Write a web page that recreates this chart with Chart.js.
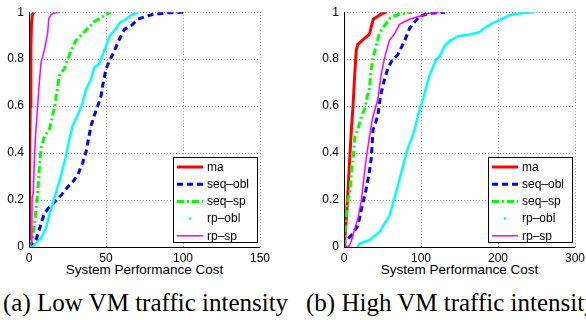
<!DOCTYPE html>
<html>
<head>
<meta charset="utf-8">
<script src="https://cdn.jsdelivr.net/npm/chart.js@4.4.1/dist/chart.umd.min.js"></script>
<style>
  html, body { margin: 0; padding: 0; background: #fff; }
  body { width: 586px; height: 320px; position: relative; overflow: hidden; }
  canvas { position: absolute; top: 0; }
  .xlabel { position: absolute; top: 263px; width: 231px; text-align: center; font: 13.5px/13.5px "Liberation Sans", Arial, sans-serif; white-space: nowrap; color: #000; }
  .caption { position: absolute; top: 290px; font: 25px/25px "Liberation Serif", "Times New Roman", serif; white-space: nowrap; color: #000; }
</style>
</head>
<body>
<canvas id="lowChart" width="290" height="262" style="left:0"></canvas>
<canvas id="highChart" width="290" height="262" style="left:300px"></canvas>
<div class="xlabel" style="left:29px">System Performance Cost</div>
<div class="xlabel" style="left:344px">System Performance Cost</div>
<div class="caption" style="left:3px">(a) Low VM traffic intensity</div>
<div class="caption" style="left:306px">(b) High VM traffic intensity</div>
<script>
// series names (legend order)
const seriesNames = ['ma', 'seq\u2013obl', 'seq\u2013sp', 'rp\u2013obl', 'rp\u2013sp'];

// (a) low VM traffic intensity: cost / CDF pairs
const lowMaCost = [0, 0.2, 0.5, 0.8, 1.2, 1.6, 2.2, 3.0];
const lowMaCdf = [0, 0.1, 0.3, 0.6, 0.85, 0.95, 0.99, 1];
const lowSeqOblCost = [0, 1.5, 4.5, 6.3, 7.8, 10, 13.2, 16.4, 20.8, 25.1, 28.4, 31.6, 34.9, 37, 40.3, 42.4, 44.6, 46.8, 47.8, 50, 52, 55.4, 58.6, 62, 66.7, 70.6, 75, 80, 89, 97, 102];
const lowSeqOblCdf = [0, 0.005, 0.03, 0.065, 0.1, 0.143, 0.17, 0.19, 0.22, 0.255, 0.277, 0.305, 0.36, 0.404, 0.517, 0.56, 0.6, 0.644, 0.686, 0.757, 0.79, 0.835, 0.884, 0.927, 0.944, 0.97, 0.98, 0.99, 0.997, 0.999, 1];
const lowSeqSpCost = [0, 1, 2.4, 3.5, 4.5, 5.6, 6.7, 7.8, 10, 13.2, 14.3, 16.4, 18.6, 19.7, 23, 25, 30.5, 38, 42.4, 50, 53];
const lowSeqSpCdf = [0, 0.02, 0.04, 0.09, 0.16, 0.23, 0.33, 0.42, 0.47, 0.5, 0.53, 0.59, 0.68, 0.73, 0.76, 0.8, 0.88, 0.93, 0.96, 0.99, 1];
const lowRpOblCost = [0, 2.4, 4.5, 7.8, 11, 13.2, 16.4, 19.7, 23.6, 26.2, 28.4, 31.6, 34.9, 37, 40.3, 42.4, 45.6, 50, 52.6, 56.5, 59, 63, 65.6, 70.8];
const lowRpOblCdf = [0, 0.002, 0.015, 0.037, 0.08, 0.136, 0.206, 0.277, 0.376, 0.46, 0.517, 0.56, 0.616, 0.67, 0.715, 0.764, 0.78, 0.856, 0.9, 0.93, 0.955, 0.97, 0.985, 1];
const lowRpSpCost = [0, 1.5, 1.9, 2.0, 2.8, 3.5, 4.5, 5.6, 6.7, 7.8, 10, 12.1, 12.8, 14.3, 17, 19.7];
const lowRpSpCdf = [0, 0.02, 0.12, 0.21, 0.23, 0.38, 0.5, 0.6, 0.7, 0.785, 0.84, 0.91, 0.97, 0.99, 0.998, 1];

// (b) high VM traffic intensity
const highMaCost = [0, 1, 3, 5, 7.5, 9.6, 11.7, 14, 16, 18, 22, 27, 31, 33.4, 35.5, 38, 44, 50, 55];
const highMaCdf = [0, 0.03, 0.12, 0.23, 0.38, 0.5, 0.6, 0.74, 0.84, 0.863, 0.875, 0.89, 0.9, 0.91, 0.94, 0.97, 0.983, 0.995, 1];
const highSeqOblCost = [0, 1, 9.6, 18, 22.6, 29, 33, 35.5, 37.7, 40, 44, 46.4, 48.6, 53, 57, 61.5, 70, 79, 85, 92, 98, 109, 131];
const highSeqOblCdf = [0, 0.02, 0.05, 0.09, 0.16, 0.25, 0.32, 0.38, 0.5, 0.52, 0.56, 0.62, 0.66, 0.72, 0.76, 0.79, 0.82, 0.88, 0.93, 0.96, 0.983, 0.994, 1];
const highSeqSpCost = [0, 1, 3, 5, 7.5, 10, 12, 14, 18, 22, 27, 30, 33, 35, 38, 42, 46, 52, 60, 70, 88];
const highSeqSpCdf = [0, 0.05, 0.13, 0.2, 0.23, 0.33, 0.38, 0.47, 0.5, 0.55, 0.59, 0.64, 0.67, 0.75, 0.81, 0.86, 0.91, 0.94, 0.975, 0.99, 1];
const highRpOblCost = [18, 20.4, 33.4, 46.4, 59.4, 70, 81, 91.8, 96, 102.6, 111, 120, 124, 130.8, 137, 148, 163, 176, 182.7, 193.5, 202, 215, 232.5, 247.7];
const highRpOblCdf = [0, 0.015, 0.03, 0.065, 0.136, 0.26, 0.4, 0.5, 0.56, 0.63, 0.73, 0.8, 0.81, 0.856, 0.877, 0.898, 0.905, 0.915, 0.933, 0.955, 0.966, 0.987, 0.997, 1];
const highRpSpCost = [0, 7, 9, 11.7, 15, 18, 22.6, 26, 29, 33, 36, 38, 44, 46, 48.6, 53, 59, 66, 72, 85, 98, 110, 124];
const highRpSpCdf = [0, 0.005, 0.02, 0.05, 0.09, 0.12, 0.2, 0.3, 0.38, 0.47, 0.53, 0.56, 0.63, 0.68, 0.74, 0.81, 0.88, 0.91, 0.948, 0.97, 0.983, 0.995, 1];

// tick labels
const yTicks = [0, 0.2, 0.4, 0.6, 0.8, 1];
const lowXTicks = [0, 50, 100, 150];
const highXTicks = [0, 100, 200, 300];

// line styles, same order as seriesNames
const lineStyles = [
  { color: '#ff0000', width: 3, dash: [] },
  { color: '#0000ff', width: 3, dash: [6, 4] },
  { color: '#00ff00', width: 3, dash: [7, 3, 2, 3] },
  { color: '#00ffff', width: 2.5, dash: [], dot: true },
  { color: '#ff00ff', width: 1.5, dash: [] }
];

const sansFont = 'Liberation Sans, Arial, Helvetica, sans-serif';

function toPoints(cost, cdf) {
  return cost.map((c, i) => ({ x: c, y: cdf[i] }));
}

// axis lines + legend box drawn inside the plot area, MATLAB style
const axesAndLegend = {
  id: 'axesAndLegend',
  afterDraw(chart) {
    const { ctx, chartArea: a } = chart;
    ctx.save();
    ctx.setLineDash([]);
    ctx.strokeStyle = '#000';
    ctx.lineWidth = 1;
    ctx.beginPath();
    ctx.moveTo(a.left + 0.5, a.top);
    ctx.lineTo(a.left + 0.5, a.bottom + 0.5);
    ctx.lineTo(a.right, a.bottom + 0.5);
    ctx.stroke();

    const bx = Math.round(a.right) - 87, by = Math.round(a.bottom) - 90, bw = 84, bh = 85;
    ctx.fillStyle = '#fff';
    ctx.fillRect(bx, by, bw, bh);
    ctx.strokeRect(bx + 0.5, by + 0.5, bw, bh);

    ctx.font = '12px ' + sansFont;
    ctx.textBaseline = 'middle';
    ctx.textAlign = 'left';
    chart.data.datasets.forEach((ds, i) => {
      const y = by + 10 + i * 17.2;
      const st = lineStyles[i];
      ctx.strokeStyle = st.color;
      ctx.fillStyle = st.color;
      if (st.dot) {
        ctx.beginPath();
        ctx.arc(bx + 17, y, 1.3, 0, Math.PI * 2);
        ctx.fill();
      } else {
        ctx.lineWidth = st.width;
        ctx.setLineDash(st.dash);
        ctx.beginPath();
        ctx.moveTo(bx + 4, y);
        ctx.lineTo(bx + 30, y);
        ctx.stroke();
        ctx.setLineDash([]);
      }
      ctx.fillStyle = '#000';
      ctx.fillText(ds.label, bx + 34, y + 0.5);
    });
    ctx.restore();
  }
};

function buildChart(id, series, xTicks, yAxisWidth, rightPad) {
  const datasets = series.map((s, i) => ({
    label: seriesNames[i],
    data: toPoints(s[0], s[1]),
    borderColor: lineStyles[i].color,
    borderWidth: lineStyles[i].width,
    borderDash: lineStyles[i].dash,
    pointRadius: 0,
    tension: 0,
    fill: false,
    order: series.length - i
  }));
  const xMax = xTicks[xTicks.length - 1];
  return new Chart(document.getElementById(id), {
    type: 'line',
    data: { datasets },
    options: {
      responsive: false,
      animation: false,
      events: [],
      layout: { padding: { left: 0, right: rightPad, top: 10, bottom: 0 } },
      plugins: { legend: { display: false }, tooltip: { enabled: false } },
      scales: {
        x: {
          type: 'linear',
          min: 0,
          max: xMax,
          afterBuildTicks: (scale) => { scale.ticks = xTicks.map(v => ({ value: v })); },
          afterFit: (scale) => { scale.height = 15; },
          grid: { color: '#9a9a9a', lineWidth: 1, drawTicks: false },
          border: { display: false, dash: [1, 2] },
          ticks: { color: '#000', font: { family: sansFont, size: 12 }, padding: 4, maxRotation: 0,
                   callback: (v) => String(v) }
        },
        y: {
          type: 'linear',
          min: 0,
          max: 1,
          afterBuildTicks: (scale) => { scale.ticks = yTicks.map(v => ({ value: v })); },
          afterFit: (scale) => { scale.width = yAxisWidth; },
          grid: { color: '#9a9a9a', lineWidth: 1, drawTicks: false },
          border: { display: false, dash: [1, 2] },
          ticks: { color: '#000', font: { family: sansFont, size: 12 }, padding: 5,
                   callback: (v) => String(Math.round(v * 10) / 10) }
        }
      }
    },
    plugins: [axesAndLegend]
  });
}

buildChart('lowChart', [
  [lowMaCost, lowMaCdf],
  [lowSeqOblCost, lowSeqOblCdf],
  [lowSeqSpCost, lowSeqSpCdf],
  [lowRpOblCost, lowRpOblCdf],
  [lowRpSpCost, lowRpSpCdf]
], lowXTicks, 29, 30);

buildChart('highChart', [
  [highMaCost, highMaCdf],
  [highSeqOblCost, highSeqOblCdf],
  [highSeqSpCost, highSeqSpCdf],
  [highRpOblCost, highRpOblCdf],
  [highRpSpCost, highRpSpCdf]
], highXTicks, 44, 15);
</script>
</body>
</html>
